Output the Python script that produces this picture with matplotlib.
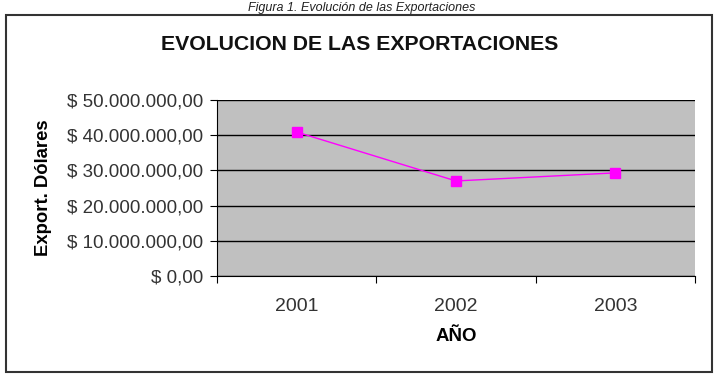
import matplotlib
matplotlib.use("Agg")
import matplotlib.pyplot as plt
from matplotlib.patches import Rectangle
from matplotlib.ticker import FixedLocator, FuncFormatter

years = ["2001", "2002", "2003"]
exports = [40.9e6, 27.0e6, 29.3e6]
y_ticks = [0, 10e6, 20e6, 30e6, 40e6, 50e6]

plt.rcParams['font.family'] = ['Liberation Sans', 'DejaVu Sans']

W, H = 723, 384
fig = plt.figure(figsize=(W / 100, H / 100), dpi=100)
fig.patch.set_facecolor("white")

def fx(px):
    return px / W

def fy(py):
    return 1 - py / H

# outer frame
fig.patches.append(Rectangle((fx(6), fy(372)), fx(706), (372 - 15) / H,
                             transform=fig.transFigure, fill=False,
                             edgecolor="#333333", linewidth=1.5))

# top caption
fig.text(fx(362), fy(10.5), "Figura 1. Evolución de las Exportaciones",
         ha="center", va="baseline", fontsize=9, style="italic", color="#222222")

ax = fig.add_axes([fx(217), fy(276), fx(695 - 217), (276 - 100) / H])
ax.set_facecolor("#c0c0c0")

x = list(range(1, len(years) + 1))
ax.plot(x, exports, color="#ff00ff", linewidth=1.0, marker="s",
        markersize=6.5, markerfacecolor="#ff00ff", markeredgecolor="#ff00ff")

ax.set_xlim(0.5, len(years) + 0.5)
ax.set_ylim(0, 50e6)

ax.yaxis.set_major_locator(FixedLocator(y_ticks))

def fmt(v, pos):
    if v == 0:
        return "$ 0,00"
    s = f"{int(round(v)):,}".replace(",", ".")
    return f"$ {s},00"

ax.yaxis.set_major_formatter(FuncFormatter(fmt))
ax.grid(axis="y", color="black", linewidth=1.0)
ax.set_axisbelow(True)

ax.xaxis.set_major_locator(FixedLocator([0.5 + i for i in range(len(years) + 1)]))
ax.xaxis.set_major_formatter(FuncFormatter(lambda v, p: ""))
ax.xaxis.set_minor_locator(FixedLocator(x))
ax.set_xticklabels(years, minor=True)
ax.tick_params(axis="x", which="minor", length=0, pad=16, labelsize=14, labelcolor="#333333")
ax.tick_params(axis="x", which="major", length=5, direction="out", width=0.8)
ax.tick_params(axis="y", length=5, direction="out", width=0.8, labelsize=13.5,
               labelcolor="#333333", pad=5)

for side in ["top", "right"]:
    ax.spines[side].set_visible(False)
ax.spines["left"].set_color("black")
ax.spines["bottom"].set_color("black")

ax.set_ylabel("Export. Dólares", fontsize=13.3, fontweight="bold", labelpad=11)
ax.set_xlabel("AÑO", fontsize=13.4, fontweight="bold", labelpad=9)

fig.text(fx(360), fy(44), "EVOLUCION DE LAS EXPORTACIONES", ha="center", va="center",
         fontsize=15.3, fontweight="bold", color="#111111")

fig.savefig("out.png", dpi=100, facecolor="white")
